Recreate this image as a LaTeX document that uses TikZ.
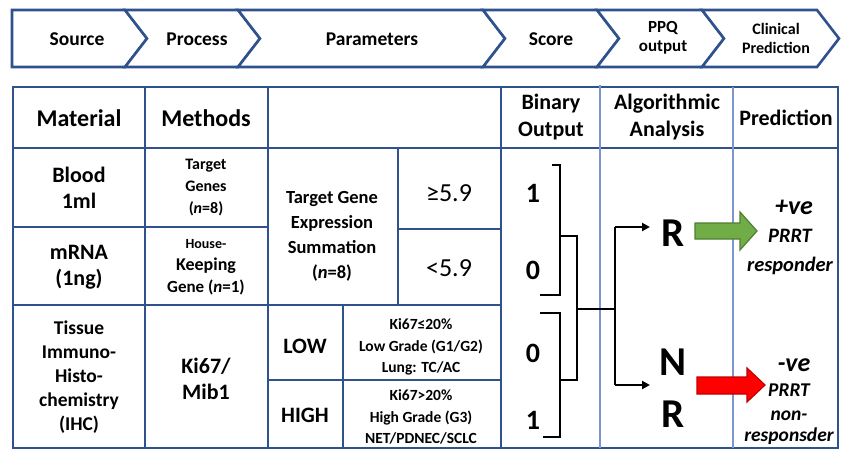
\documentclass[tikz,border=0pt]{standalone}
\usepackage{fontspec}
\setmainfont{Carlito}
\usetikzlibrary{arrows.meta}
\definecolor{navy}{HTML}{2F528F}
\definecolor{lightnavy}{HTML}{7A96CC}
\definecolor{gfill}{HTML}{70AD47}
\definecolor{gline}{HTML}{507E32}
\definecolor{rfill}{HTML}{FF0000}
\definecolor{rline}{HTML}{C00000}
\begin{document}
\begin{tikzpicture}[x=1pt,y=-1pt,
  every node/.style={inner sep=0pt, align=center},
  barseg/.style={draw=navy, line width=2.6pt, line join=miter, fill=white},
  bartext/.style={font=\fontsize{19.5}{21}\selectfont\bfseries},
  barsmall/.style={font=\fontsize{17}{19}\selectfont\bfseries},
  grid/.style={draw=navy, line width=2.6pt},
  lgrid/.style={draw=lightnavy, line width=2pt},
  hdr/.style={font=\fontsize{24}{28}\selectfont\bfseries},
  hdrs/.style={font=\fontsize{22}{27}\selectfont\bfseries},
  mat/.style={font=\fontsize{22}{26}\selectfont\bfseries},
  tis/.style={font=\fontsize{19.5}{24}\selectfont\bfseries},
  meth/.style={font=\fontsize{16}{22}\selectfont\bfseries},
  tg/.style={font=\fontsize{18.5}{25}\selectfont\bfseries},
  thr/.style={font=\fontsize{26}{30}\selectfont},
  grade/.style={font=\fontsize{15.5}{21.5}\selectfont\bfseries},
  digit/.style={font=\fontsize{28}{30}\selectfont\bfseries},
  big/.style={font=\fontsize{41}{44}\selectfont\bfseries},
  conn/.style={draw=black, line width=2.2pt},
  arr/.style={conn, -{Triangle[length=8pt,width=8pt]}},
  pve/.style={font=\fontsize{26}{28}\selectfont\bfseries\itshape},
  prrt/.style={font=\fontsize{20.5}{29}\selectfont\bfseries\itshape},
  greenarrow/.style={draw=gline, line width=1.2pt, fill=gfill},
  redarrow/.style={draw=rline, line width=1.2pt, fill=rfill}
]
\useasboundingbox (0,0) rectangle (842,452);
\fill[white] (0,0) rectangle (842,452);

% ---------- top chevron bar ----------
\draw[barseg] (12,10) -- (125,10) -- (147,38.5) -- (125,67) -- (12,67) -- cycle;
\draw[barseg] (125,10) -- (238,10) -- (260,38.5) -- (238,67) -- (125,67) -- (147,38.5) -- cycle;
\draw[barseg] (238,10) -- (483,10) -- (505,38.5) -- (483,67) -- (238,67) -- (260,38.5) -- cycle;
\draw[barseg] (483,10) -- (597,10) -- (619,38.5) -- (597,67) -- (483,67) -- (505,38.5) -- cycle;
\draw[barseg] (597,10) -- (702,10) -- (724,38.5) -- (702,67) -- (597,67) -- (619,38.5) -- cycle;
\draw[barseg] (702,10) -- (817,10) -- (839,38.5) -- (817,67) -- (702,67) -- (724,38.5) -- cycle;

\node[bartext] (source) at (77,39) {Source};
\node[bartext] (process) at (197,39) {Process};
\node[bartext] (parameters) at (372,39) {Parameters};
\node[bartext] (score) at (551,39) {Score};
\node[barsmall] (ppq) at (663,38) {PPQ\\output};
\node[barsmall, font=\fontsize{16}{19}\selectfont\bfseries] (clinical) at (776,38) {Clinical\\Prediction};

% ---------- table grid ----------
\draw[grid] (13,87) rectangle (838,448);
\draw[grid] (13,148) -- (838,148);
\draw[grid] (13,227) -- (268,227);
\draw[grid] (398,229) -- (501,229);
\draw[grid] (13,305) -- (501,305);
\draw[grid] (268,380) -- (501,380);
\draw[grid] (145,87) -- (145,448);
\draw[grid] (268,87) -- (268,448);
\draw[grid] (398,148) -- (398,305);
\draw[grid] (343,305) -- (343,448);
\draw[grid] (501,87) -- (501,448);
\draw[lgrid] (600,85) -- (600,448);
\draw[lgrid] (733,87) -- (733,448);

% ---------- headers ----------
\node[hdr] (material) at (79,118) {Material};
\node[hdr] (methods) at (206,118) {Methods};
\node[hdrs] (binary) at (551,117) {Binary\\Output};
\node[hdrs] (algo) at (667,117) {Algorithmic\\Analysis};
\node[hdrs] (prediction) at (786,118) {Prediction};

% ---------- material column ----------
\node[mat] (blood) at (79,188) {Blood\\1ml};
\node[mat] (mrna) at (79,267) {mRNA\\(1ng)};
\node[tis] (tissue) at (79,377) {Tissue\\Immuno-\\Histo-\\chemistry\\(IHC)};

% ---------- methods column ----------
\node[meth] (targetgenes) at (206,188) {Target\\Genes\\({\itshape n}=8)};
\node[meth] (house) at (206,267) {{\fontsize{14}{22}\selectfont House-}\\{\fontsize{18}{22}\selectfont Keeping}\\{\fontsize{17}{22}\selectfont Gene ({\itshape n}=1)}};
\node[mat] (ki67) at (206,379) {Ki67/\\Mib1};

% ---------- parameters ----------
\node[tg] (tges) at (332,236) {Target Gene\\Expression\\Summation\\({\itshape n}=8)};
\node[thr] (hi59) at (449,193) {≥5.9};
\node[thr] (lo59) at (449,268) {<5.9};
\node[mat] (low) at (305,346) {LOW};
\node[mat] (high) at (305,415) {HIGH};
\node[grade] (lowg) at (421,347) {Ki67≤20\%\\Low Grade (G1/G2)\\Lung: TC/AC};
\node[grade] (highg) at (421,417) {Ki67>20\%\\High Grade (G3)\\NET/PDNEC/SCLC};

% ---------- binary output ----------
\node[digit] (b1) at (533,193) {1};
\node[digit] (b2) at (533,270) {0};
\node[digit] (b3) at (533,353) {0};
\node[digit] (b4) at (533,420) {1};

\coordinate (t1a) at (552,165);
\coordinate (t1b) at (560,165);
\coordinate (t1c) at (560,295);
\coordinate (t1d) at (540,295);
\coordinate (t2a) at (540,313);
\coordinate (t2b) at (560,313);
\coordinate (t2c) at (560,437);
\coordinate (t2d) at (543,437);
\coordinate (m1) at (560,236);
\coordinate (m2) at (577,236);
\coordinate (m3) at (577,380);
\coordinate (m4) at (560,380);
\coordinate (j1) at (577,309);
\coordinate (j2) at (615,309);
\coordinate (s1) at (615,227);
\coordinate (s2) at (615,385);
\coordinate (e1) at (650,227);
\coordinate (e2) at (650,385);

\draw[conn] (t1a) -- (t1b) -- (t1c) -- (t1d);
\draw[conn] (t2a) -- (t2b) -- (t2c) -- (t2d);
\draw[conn] (m1) -- (m2) -- (m3) -- (m4);
\draw[conn] (j1) -- (j2);
\draw[conn] (s1) -- (s2);

% ---------- algorithmic analysis ----------
\node[big] (R1) at (673,233) {R};
\node[big] (N2) at (673,362) {N};
\node[big] (R2) at (673,414) {R};
\draw[arr] (s1) -- (e1);
\draw[arr] (s2) -- (e2);

% ---------- prediction ----------
\draw[greenarrow] (695,223) -- (740,223) -- (740,212) -- (757,231) -- (740,250) -- (740,239) -- (695,239) -- cycle;
\draw[redarrow] (697,377) -- (747,377) -- (747,368) -- (765,385) -- (747,402) -- (747,394) -- (697,394) -- cycle;

\node[pve] (pos) at (794,207) {+ve};
\node[prrt] (posl) at (790,252) {PRRT\\responder};
\node[pve] (neg) at (794,365) {-ve};
\node[prrt, font=\fontsize{19.5}{21}\selectfont\bfseries\itshape] (negl) at (789,414) {PRRT\\[3pt]non-\\responsder};
\end{tikzpicture}
\end{document}
